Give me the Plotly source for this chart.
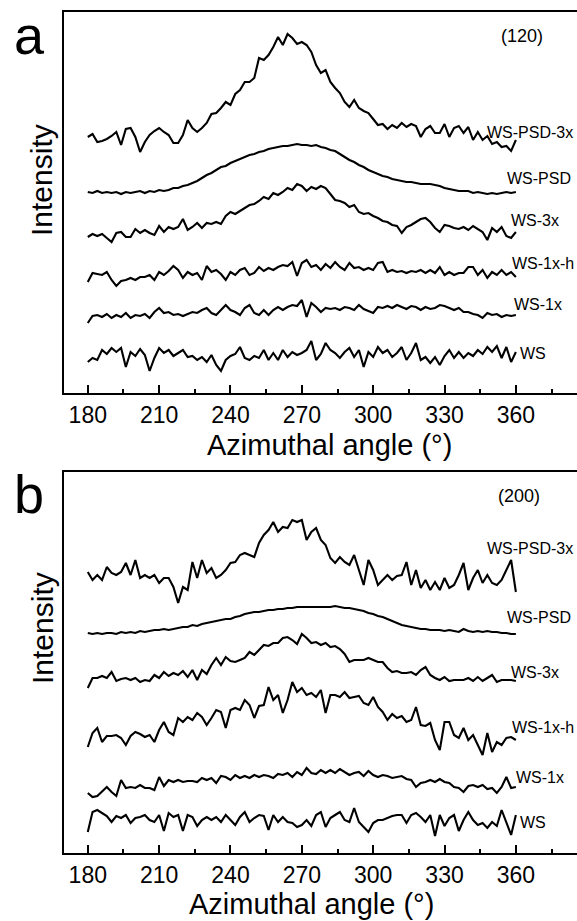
import plotly.graph_objects as go

angle = list(range(180, 361, 2))

# (120) reflection - panel a, curves from top to bottom
a_ws_psd_3x = [256, 259, 251, 252, 254, 257, 261, 248, 264, 265,
               256, 241, 251, 258, 262, 265, 261, 258, 250, 250,
               258, 273, 265, 261, 265, 270, 279, 280, 285, 291,
               288, 299, 303, 311, 311, 315, 335, 333, 338, 346,
               356, 348, 359, 355, 349, 351, 348, 341, 328, 320,
               323, 311, 305, 300, 291, 286, 293, 285, 282, 280,
               274, 268, 269, 264, 268, 265, 270, 266, 269, 267,
               256, 264, 267, 260, 260, 269, 256, 265, 267, 260,
               266, 253, 261, 253, 257, 249, 251, 246, 247, 242,
               253]
a_ws_psd = [201, 200, 202, 200, 201, 200, 201, 199, 201, 200,
            201, 202, 200, 202, 201, 203, 202, 203, 205, 205,
            207, 208, 210, 212, 215, 218, 220, 223, 226, 227,
            230, 232, 234, 236, 238, 239, 241, 242, 244, 245,
            246, 247, 247, 248, 249, 248, 248, 247, 248, 246,
            245, 243, 242, 239, 236, 233, 231, 228, 226, 223,
            221, 219, 217, 216, 214, 213, 212, 211, 211, 210,
            209, 209, 209, 208, 207, 205, 204, 203, 202, 202,
            202, 200, 201, 200, 199, 200, 199, 200, 201, 200,
            201]
a_ws_3x = [156, 159, 157, 159, 155, 151, 160, 161, 156, 156,
           164, 160, 163, 160, 158, 167, 161, 166, 164, 166,
           174, 163, 166, 170, 165, 170, 169, 171, 169, 177,
           181, 179, 182, 185, 188, 189, 192, 196, 194, 200,
           198, 201, 205, 203, 209, 207, 202, 206, 204, 207,
           205, 199, 193, 192, 190, 186, 188, 181, 179, 180,
           177, 175, 172, 171, 168, 167, 160, 166, 168, 171,
           174, 175, 171, 165, 161, 168, 167, 165, 164, 166,
           163, 167, 164, 161, 153, 165, 161, 166, 157, 155,
           161]
a_ws_1x_h = [111, 120, 119, 118, 121, 113, 107, 112, 113, 115,
             113, 116, 116, 118, 113, 121, 118, 122, 127, 123,
             115, 121, 118, 120, 113, 127, 121, 123, 119, 113,
             121, 118, 123, 125, 118, 120, 126, 122, 125, 123,
             126, 128, 127, 131, 117, 130, 133, 126, 128, 123,
             129, 125, 131, 126, 123, 130, 125, 126, 123, 125,
             123, 130, 131, 121, 123, 121, 122, 120, 122, 121,
             123, 120, 123, 120, 126, 118, 121, 118, 120, 120,
             126, 126, 118, 123, 115, 121, 118, 123, 118, 121,
             116]
a_ws_1x = [70, 77, 78, 76, 79, 75, 78, 76, 80, 75,
           78, 77, 79, 75, 81, 85, 80, 81, 78, 79,
           77, 79, 81, 80, 83, 85, 80, 78, 83, 88,
           83, 81, 78, 85, 88, 80, 78, 83, 78, 83,
           86, 83, 86, 88, 87, 93, 76, 90, 86, 81,
           85, 84, 85, 83, 86, 85, 83, 88, 84, 82,
           80, 86, 85, 87, 85, 88, 86, 84, 87, 86,
           83, 86, 84, 85, 88, 87, 85, 83, 85, 81,
           81, 79, 78, 75, 80, 78, 79, 76, 78, 77,
           78]
a_ws = [31, 35, 33, 43, 39, 45, 41, 45, 26, 41,
        37, 44, 38, 22, 35, 45, 40, 43, 37, 40,
        43, 36, 37, 33, 36, 31, 38, 28, 22, 33,
        37, 39, 46, 35, 33, 37, 35, 43, 33, 40,
        33, 43, 36, 41, 38, 40, 43, 52, 33, 39,
        50, 43, 40, 35, 41, 45, 36, 43, 26, 41,
        36, 46, 40, 43, 36, 40, 46, 33, 40, 50,
        33, 36, 30, 36, 28, 37, 43, 35, 41, 35,
        40, 37, 43, 39, 46, 41, 47, 35, 46, 31,
        41]

# (200) reflection - panel b
b_ws_psd_3x = [281, 273, 278, 273, 286, 280, 278, 281, 290, 278,
               293, 275, 278, 275, 278, 270, 275, 275, 266, 250,
               266, 263, 291, 275, 293, 280, 285, 275, 278, 283,
               290, 291, 298, 300, 298, 296, 310, 318, 323, 331,
               321, 326, 325, 333, 331, 333, 313, 321, 325, 313,
               308, 295, 290, 296, 291, 288, 298, 283, 268, 293,
               283, 268, 273, 278, 273, 277, 278, 291, 268, 283,
               265, 273, 263, 271, 263, 275, 265, 268, 278, 290,
               263, 275, 283, 270, 278, 270, 268, 273, 283, 293,
               261]
b_ws_psd = [220, 219, 220, 219, 220, 220, 219, 221, 220, 221,
            220, 222, 221, 222, 223, 223, 224, 223, 224, 225,
            226, 226, 228, 227, 229, 230, 231, 232, 233, 234,
            234, 236, 237, 239, 240, 241, 241, 242, 243, 243,
            244, 244, 245, 245, 246, 246, 246, 246, 246, 246,
            246, 246, 247, 246, 245, 245, 244, 243, 242, 240,
            239, 237, 236, 234, 232, 230, 228, 227, 226, 225,
            224, 224, 223, 223, 223, 222, 223, 222, 221, 224,
            222, 221, 222, 221, 222, 221, 221, 220, 220, 219,
            219]
b_ws_3x = [165, 175, 175, 177, 175, 181, 172, 174, 175, 173,
           175, 171, 173, 172, 178, 175, 181, 177, 180, 178,
           182, 176, 183, 173, 183, 179, 188, 195, 188, 196,
           192, 191, 193, 195, 201, 198, 203, 208, 207, 210,
           210, 215, 216, 213, 209, 219, 215, 210, 211, 208,
           210, 206, 207, 204, 199, 191, 193, 193, 193, 195,
           193, 191, 191, 185, 181, 182, 180, 180, 181, 178,
           183, 186, 178, 175, 173, 176, 172, 173, 173, 173,
           175, 172, 176, 172, 175, 178, 171, 173, 173, 173,
           172]
b_ws_1x_h = [106, 120, 125, 111, 117, 117, 118, 115, 108, 117,
             121, 119, 116, 118, 111, 123, 131, 121, 118, 135,
             131, 136, 133, 140, 136, 128, 135, 143, 141, 125,
             143, 145, 143, 153, 148, 135, 147, 148, 166, 153,
             158, 140, 153, 171, 161, 165, 158, 160, 156, 163,
             140, 158, 158, 156, 161, 155, 156, 157, 150, 148,
             156, 146, 141, 133, 139, 135, 137, 131, 133, 146,
             128, 127, 130, 113, 103, 131, 131, 118, 115, 125,
             113, 118, 108, 98, 120, 101, 111, 108, 115, 116,
             113]
b_ws_1x = [60, 56, 57, 62, 66, 61, 57, 73, 65, 66,
           65, 68, 65, 65, 63, 76, 67, 73, 71, 73,
           71, 72, 72, 71, 75, 73, 75, 70, 77, 76,
           73, 78, 75, 77, 75, 78, 76, 78, 77, 75,
           79, 78, 80, 76, 81, 78, 85, 80, 79, 83,
           80, 83, 80, 84, 81, 78, 80, 81, 77, 82,
           78, 76, 78, 77, 75, 76, 77, 74, 73, 66,
           70, 71, 73, 71, 74, 71, 70, 66, 65, 61,
           67, 68, 66, 68, 64, 65, 60, 66, 76, 65,
           66]
b_ws = [21, 41, 43, 40, 37, 31, 37, 35, 38, 30,
        35, 36, 38, 33, 31, 38, 22, 40, 36, 38,
        22, 38, 36, 27, 33, 36, 33, 36, 31, 38,
        33, 28, 36, 41, 31, 35, 38, 37, 23, 38,
        31, 36, 31, 30, 26, 28, 33, 27, 38, 41,
        26, 35, 38, 41, 33, 31, 45, 31, 26, 21,
        30, 33, 33, 35, 37, 38, 38, 30, 38, 40,
        36, 31, 38, 17, 38, 27, 35, 38, 22, 33,
        41, 33, 28, 30, 25, 31, 27, 43, 30, 18,
        38]

names = ["WS-PSD-3x", "WS-PSD", "WS-3x", "WS-1x-h", "WS-1x", "WS"]
panel_a = [a_ws_psd_3x, a_ws_psd, a_ws_3x, a_ws_1x_h, a_ws_1x, a_ws]
panel_b = [b_ws_psd_3x, b_ws_psd, b_ws_3x, b_ws_1x_h, b_ws_1x, b_ws]

# label anchor (angle, intensity) for the curve names
lab_a = [(347.0, 261), (355.4, 215), (357.1, 173), (357.5, 130), (358.4, 89), (360.9, 40)]
lab_b = [(347.0, 305), (355.4, 236), (357.1, 181), (357.5, 126), (359.2, 76), (360.9, 31)]

W, H = 577, 921
ML = 64
FONT = "Arial, 'Liberation Sans', sans-serif"


def fx(p):
    return (p - ML) / (W - ML)


def fy(p):
    return (H - p) / H


fig = go.Figure()
for vals in panel_a:
    fig.add_trace(go.Scatter(x=angle, y=vals, mode='lines', xaxis='x', yaxis='y',
                             line=dict(color='black', width=2.1), showlegend=False, hoverinfo='skip'))
for vals in panel_b:
    fig.add_trace(go.Scatter(x=angle, y=vals, mode='lines', xaxis='x2', yaxis='y2',
                             line=dict(color='black', width=2.1), showlegend=False, hoverinfo='skip'))

xax = dict(range=[170.0, 385.7], showline=True, linewidth=2, linecolor='black', mirror=True,
           ticks='inside', ticklen=8, tickwidth=2, tickcolor='black', tick0=180, dtick=30,
           minor=dict(ticks='inside', ticklen=4, tickwidth=2, tickcolor='black', tick0=180, dtick=15),
           tickfont=dict(size=23, color='black', family=FONT), showgrid=False, zeroline=False,
           automargin=False)
yax = dict(range=[-0.3, 381.3], showline=True, linewidth=2, linecolor='black', mirror=False,
           showticklabels=False, ticks='', showgrid=False, zeroline=False, automargin=False)

fig.update_layout(
    width=W, height=H, margin=dict(l=ML, r=0, t=0, b=0),
    paper_bgcolor='white', plot_bgcolor='white', template='none',
    font=dict(family=FONT, color='black'),
    xaxis=dict(xax, domain=[0, 1], anchor='y'),
    yaxis=dict(yax, domain=[fy(393.3), fy(11.7)], anchor='x'),
    xaxis2=dict(xax, domain=[0, 1], anchor='y2'),
    yaxis2=dict(yax, domain=[fy(853.3), fy(471.7)], anchor='x2'),
)

ann = []
for (lx, ly), name in zip(lab_a, names):
    ann.append(dict(x=lx, y=ly, xref='x', yref='y', text=name, showarrow=False,
                    xanchor='left', yanchor='middle', font=dict(size=16)))
for (lx, ly), name in zip(lab_b, names):
    ann.append(dict(x=lx, y=ly, xref='x2', yref='y2', text=name, showarrow=False,
                    xanchor='left', yanchor='middle', font=dict(size=16)))
ann.append(dict(x=352.9, y=357, xref='x', yref='y', text='(120)', showarrow=False,
                xanchor='left', yanchor='middle', font=dict(size=18)))
ann.append(dict(x=351.6, y=357, xref='x2', yref='y2', text='(200)', showarrow=False,
                xanchor='left', yanchor='middle', font=dict(size=18)))

# panel letters, y titles, x titles
for letter, ypos in [('a', 35), ('b', 494)]:
    ann.append(dict(x=fx(12), y=fy(ypos), xref='paper', yref='paper', text=letter, showarrow=False,
                    xanchor='left', yanchor='middle', font=dict(size=54)))
for ypos in [180, 628]:
    ann.append(dict(x=fx(42), y=fy(ypos), xref='paper', yref='paper', text='Intensity', showarrow=False,
                    textangle=-90, xanchor='center', yanchor='middle', font=dict(size=30)))
for xpos, ypos in [(329, 445), (311, 904)]:
    ann.append(dict(x=fx(xpos), y=fy(ypos), xref='paper', yref='paper', text='Azimuthal angle (°)',
                    showarrow=False, xanchor='center', yanchor='middle', font=dict(size=29)))

fig.update_layout(annotations=ann)
# drop the default 8px page margin so the figure sits at the window corner
fig.write_html("out.html", config={'displayModeBar': False},
               post_script="document.body.style.margin = '0px';")
